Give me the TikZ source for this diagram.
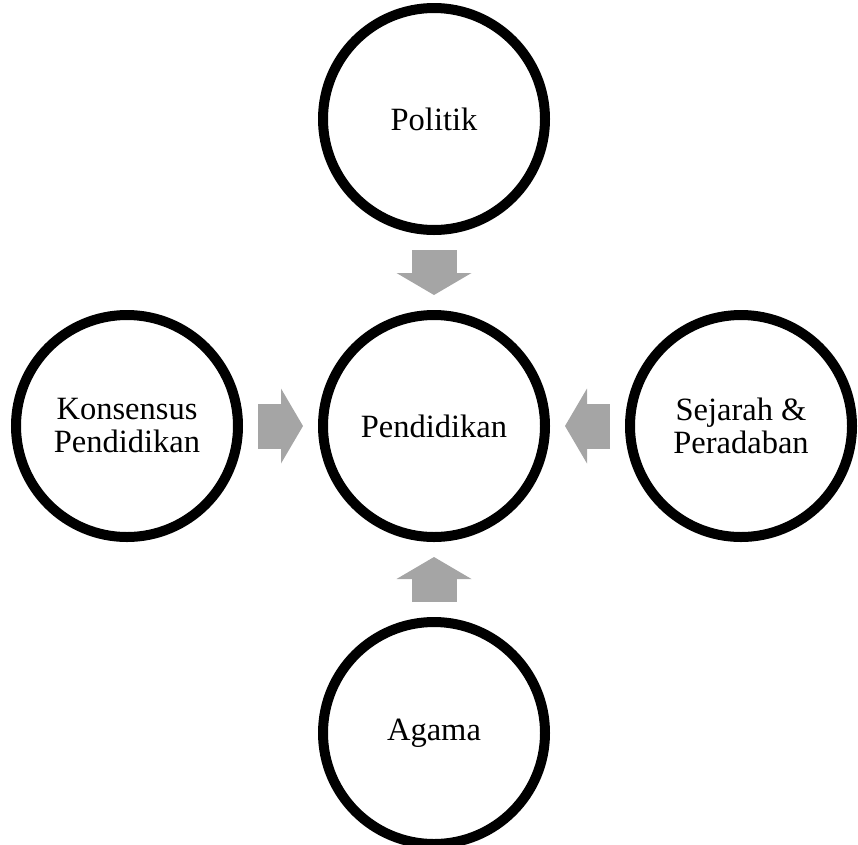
\documentclass[tikz,border=0pt]{standalone}
\usepackage{fontspec}
\setmainfont{Liberation Serif}
\usepackage{xcolor}
\usetikzlibrary{positioning,arrows.meta}

\definecolor{arrowgray}{HTML}{A5A5A5}

\begin{document}
\begin{tikzpicture}[
    x=1pt, y=1pt,
    node distance=75pt,
    topic/.style={circle, draw=black, line width=10pt, fill=white, minimum size=222pt, inner sep=0pt, align=center, font=\fontsize{32.5}{33}\selectfont},
    flow/.style={-{Triangle[width=75pt, length=22pt, line width=0pt]}, line width=45pt, arrowgray, shorten <=15pt, shorten >=15pt}
]
    \useasboundingbox (0,0) rectangle (858,-844);

    % Center topic
    \node[topic] (pendidikan) at (434,-426) {Pendidikan};

    % Surrounding topics
    \node[topic, above=of pendidikan] (politik) {Politik};
    \node[topic, left=of pendidikan] (konsensus) {Konsensus\\Pendidikan};
    \node[topic, right=of pendidikan] (sejarah) {Sejarah \&\\Peradaban};
    \node[topic, below=of pendidikan] (agama) {Agama};

    % Arrows into the center
    \draw[flow] (politik) -- (pendidikan);
    \draw[flow] (konsensus) -- (pendidikan);
    \draw[flow] (sejarah) -- (pendidikan);
    \draw[flow] (agama) -- (pendidikan);
\end{tikzpicture}
\end{document}
